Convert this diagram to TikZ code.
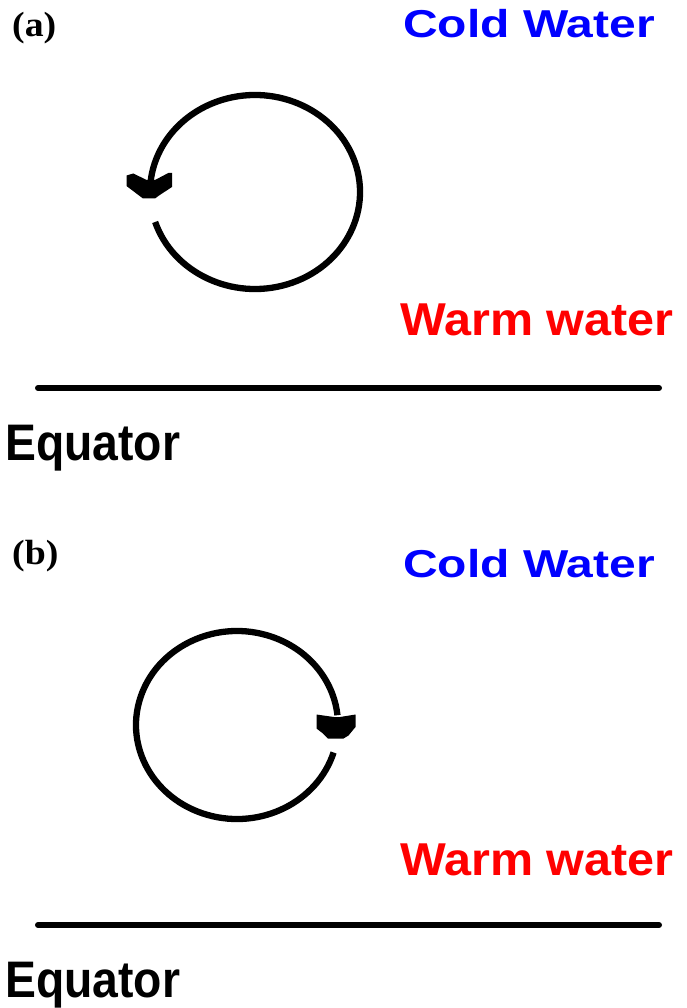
\documentclass[tikz,border=0pt]{standalone}
\usepackage{fontspec}
\setmainfont{Liberation Serif}
\setsansfont{Liberation Sans}
\begin{document}
\begin{tikzpicture}[x=1pt,y=-1pt,
  lbl/.style={anchor=base west, inner sep=0pt, font=\sffamily\bfseries},
  panel/.style={anchor=base west, inner sep=0pt, font=\rmfamily\bfseries},
  ring/.style={line width=6.3pt},
  eqline/.style={line width=6pt, line cap=round},
  headfill/.style={fill=black, draw=none}]
\useasboundingbox (0,0) rectangle (686,1008);

% ---------- panel (a) ----------
\node[panel] (pa) at (12,37) {\fontsize{35}{35}\selectfont\scalebox{1.08}[1]{(a)}};
\node[lbl, text=blue] (colda) at (403,38) {\fontsize{48}{48}\selectfont\scalebox{1}[0.81]{Cold Water}};
\node[lbl, text=red] (warma) at (400,335) {\fontsize{48.5}{48.5}\selectfont\scalebox{1}[0.95]{Warm water}};
\node[lbl] (equa) at (5,460) {\fontsize{46.3}{46.3}\selectfont\scalebox{1}[1.11]{Equator}};
\coordinate (la) at (38,388);
\coordinate (ra) at (659,388);
\draw[eqline] (la) -- (ra);
\coordinate (ca) at (255,192);
\draw[ring] (ca) ++(162:105 and 97) arc[start angle=162, end angle=-173, x radius=105, y radius=97];
\fill[headfill, shift={(150,180)}] (-23.5,-4.5) -- (-16.7,-6.5) -- (-3.3,0) -- (5,0) -- (18.3,-7) -- (22,-7)
  -- (22,7) -- (9,15.5) -- (5,18.5) -- (-7,18.5) -- (-23.5,6) -- cycle;

% ---------- panel (b) ----------
\node[panel] (pb) at (12,564) {\fontsize{35}{35}\selectfont\scalebox{1.08}[1]{(b)}};
\node[lbl, text=blue] (coldb) at (403,577) {\fontsize{48}{48}\selectfont\scalebox{1}[0.81]{Cold Water}};
\node[lbl, text=red] (warmb) at (400,875) {\fontsize{48.5}{48.5}\selectfont\scalebox{1}[0.95]{Warm water}};
\node[lbl] (equb) at (5,997) {\fontsize{46.3}{46.3}\selectfont\scalebox{1}[1.11]{Equator}};
\coordinate (lb) at (38,925);
\coordinate (rb) at (659,925);
\draw[eqline] (lb) -- (rb);
\coordinate (cb) at (237,725);
\draw[ring] (cb) ++(17:101 and 94) arc[start angle=17, end angle=354, x radius=101, y radius=94];
\fill[headfill, shift={(337,716)}] (-20.5,-1.5) -- (-3,1) -- (3,1) -- (18.5,-1.5) -- (18.5,11) -- (11.5,19.5)
  -- (6.5,22.5) -- (-9,22.5) -- (-14,17.5) -- (-20.5,12.5) -- cycle;
\end{tikzpicture}
\end{document}
